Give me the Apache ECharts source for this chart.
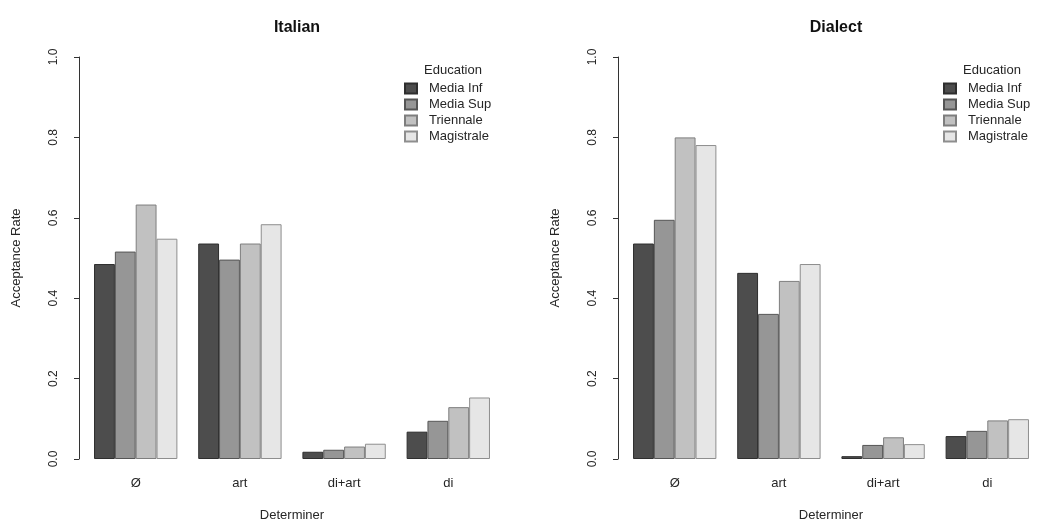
<!DOCTYPE html>
<html>
<head>
<meta charset="utf-8">
<script src="https://cdn.jsdelivr.net/npm/echarts@6/dist/echarts.min.js"></script>
<style>
  html, body { margin: 0; padding: 0; background: #fff; }
  #chart { width: 1041px; height: 527px; }
</style>
</head>
<body>
<div id="chart"></div>
<script>
// Determiner categories along the x axis
const categories = ['Ø', 'art', 'di+art', 'di'];
// Education levels (one bar per level within each determiner group)
const educationLevels = ['Media Inf', 'Media Sup', 'Triennale', 'Magistrale'];

// Acceptance rates, Italian panel (one array per education level, ordered by category)
const italianMediaInf   = [0.485, 0.536, 0.018, 0.068];
const italianMediaSup   = [0.516, 0.496, 0.023, 0.095];
const italianTriennale  = [0.633, 0.536, 0.031, 0.129];
const italianMagistrale = [0.548, 0.584, 0.038, 0.153];

// Acceptance rates, Dialect panel
const dialectMediaInf   = [0.536, 0.463, 0.007, 0.057];
const dialectMediaSup   = [0.595, 0.361, 0.035, 0.070];
const dialectTriennale  = [0.800, 0.443, 0.054, 0.096];
const dialectMagistrale = [0.781, 0.485, 0.037, 0.099];

// Y axis ticks
const yTicks = [0.0, 0.2, 0.4, 0.6, 0.8, 1.0];

const panelTitles = ['Italian', 'Dialect'];
const legendTitle = 'Education';
const xAxisTitle = 'Determiner';
const yAxisTitle = 'Acceptance Rate';

const fills   = ['#4d4d4d', '#969696', '#c1c1c1', '#e6e6e6'];
const borders = ['#2e2e2e', '#555555', '#7e7e7e', '#8e8e8e'];
const FONT = 'Liberation Sans, Arial, Helvetica, sans-serif';
const TEXT = '#262626';

const panels = [
  [italianMediaInf, italianMediaSup, italianTriennale, italianMagistrale],
  [dialectMediaInf, dialectMediaSup, dialectTriennale, dialectMagistrale]
];

// Layout of the two panels
const gridLeft = [83.6, 622.6];
const gridWidth = 416.8;
const gridTop = 57;
const gridHeight = 404;

const grids = gridLeft.map(l => ({ left: l, top: gridTop, width: gridWidth, height: gridHeight }));

const xAxes = gridLeft.map((_, i) => ({
  type: 'category',
  gridIndex: i,
  data: categories,
  axisLine: { show: false },
  axisTick: { show: false },
  axisLabel: { color: TEXT, fontFamily: FONT, fontSize: 13, margin: 18 },
  name: xAxisTitle,
  nameLocation: 'middle',
  nameGap: 50,
  nameTextStyle: { color: TEXT, fontFamily: FONT, fontSize: 13 }
}));

const yAxes = gridLeft.map((_, i) => ({
  type: 'value',
  gridIndex: i,
  min: yTicks[0],
  max: yTicks[yTicks.length - 1],
  interval: yTicks[1] - yTicks[0],
  offset: 4.6,
  splitLine: { show: false },
  axisLine: { show: true, lineStyle: { color: '#333', width: 1 } },
  axisTick: { show: true, length: 5, lineStyle: { color: '#333' } },
  axisLabel: {
    color: TEXT, fontFamily: FONT, fontSize: 12, rotate: 90, margin: 19,
    formatter: v => v.toFixed(1)
  },
  name: yAxisTitle,
  nameLocation: 'middle',
  nameGap: 56,
  nameTextStyle: { color: TEXT, fontFamily: FONT, fontSize: 13 }
}));

const series = [];
panels.forEach((panel, p) => {
  panel.forEach((values, k) => {
    series.push({
      type: 'bar',
      name: educationLevels[k],
      xAxisIndex: p,
      yAxisIndex: p,
      data: values,
      barWidth: '20%',
      barGap: '0%',
      itemStyle: { color: fills[k], borderColor: borders[k], borderWidth: 1 },
      emphasis: { disabled: true },
      animation: false
    });
  });
});

const legendLeft = [399, 938];
const legends = legendLeft.map(l => ({
  left: l,
  top: 77,
  orient: 'vertical',
  icon: 'rect',
  itemWidth: 12,
  itemHeight: 10,
  itemGap: 3,
  selectedMode: false,
  data: educationLevels,
  textStyle: { color: TEXT, fontFamily: FONT, fontSize: 13, padding: [0, 0, 0, 7] }
}));

const titles = [
  { text: panelTitles[0], left: 292, top: 15, textAlign: 'center',
    textStyle: { color: '#111', fontFamily: FONT, fontSize: 16, fontWeight: 'bold' } },
  { text: panelTitles[1], left: 831, top: 15, textAlign: 'center',
    textStyle: { color: '#111', fontFamily: FONT, fontSize: 16, fontWeight: 'bold' } },
  { text: legendTitle, left: 448, top: 59, textAlign: 'center',
    textStyle: { color: TEXT, fontFamily: FONT, fontSize: 13, fontWeight: 'normal' } },
  { text: legendTitle, left: 987, top: 59, textAlign: 'center',
    textStyle: { color: TEXT, fontFamily: FONT, fontSize: 13, fontWeight: 'normal' } }
];

const chart = echarts.init(document.getElementById('chart'), null, { renderer: 'canvas' });
chart.setOption({
  backgroundColor: '#ffffff',
  animation: false,
  title: titles,
  legend: legends,
  grid: grids,
  xAxis: xAxes,
  yAxis: yAxes,
  series: series
});
</script>
</body>
</html>
